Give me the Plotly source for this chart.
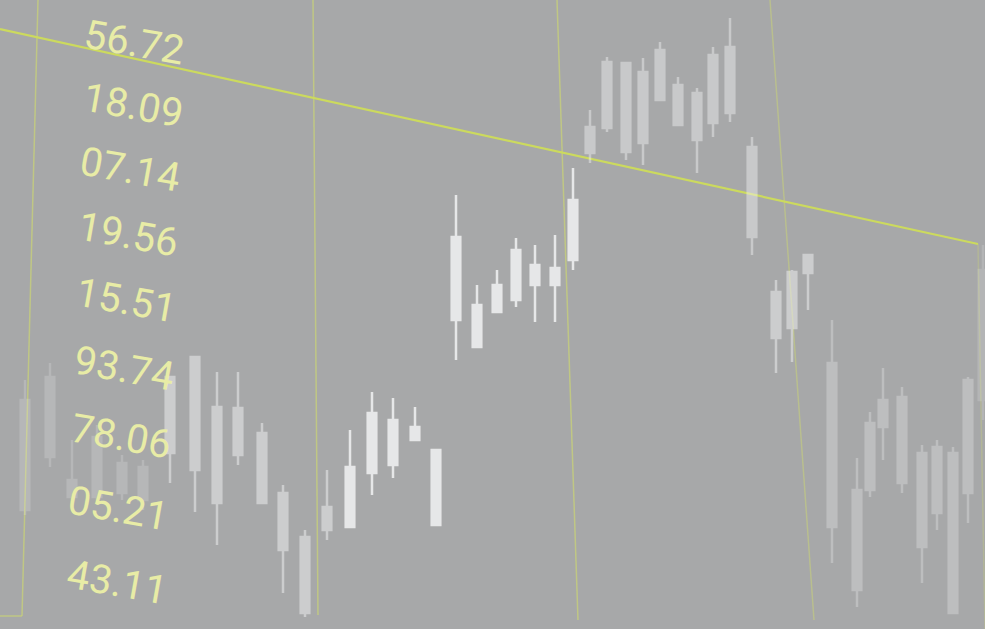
import plotly.graph_objects as go

# ---- data (price units; the chart shows a candlestick series) ----
pos = [25, 50, 72, 97, 122, 143,
       170, 195, 217, 238, 262, 283, 305, 327,
       350, 372, 393, 415, 436,
       456, 477, 497, 516, 535, 555, 573,
       590, 607, 626, 643, 660, 678, 697, 713, 730, 752,
       776, 792, 808,
       832, 857, 870, 883, 902, 922, 937, 953, 968, 983]
high = [249, 266, 189, 204, 174, 169,
        252, 272, 257, 257, 206, 144, 99, 159,
        199, 237, 231, 222, 179,
        434, 344, 359, 391, 384, 394, 461,
        519, 572, 566, 571, 587, 552, 541, 582, 611, 492,
        349, 359, 374,
        309, 171, 217, 261, 242, 184, 189, 182, 252, 384]
open_ = [119, 172, 132, 132, 136, 129,
         176, 159, 126, 174, 126, 79, 16, 99,
         102, 156, 164, 189, 104,
         309, 282, 317, 329, 344, 344, 369,
         476, 501, 477, 486, 529, 504, 489, 506, 516, 392,
         291, 301, 356,
         102, 39, 139, 229, 146, 82, 116, 16, 136, 229]
close = [229, 252, 149, 192, 166, 162,
         252, 272, 222, 221, 196, 136, 92, 122,
         162, 216, 209, 202, 179,
         392, 324, 344, 379, 364, 361, 429,
         502, 567, 566, 557, 579, 544, 536, 574, 582, 482,
         337, 357, 374,
         266, 139, 206, 202, 232, 176, 182, 176, 249, 359]
low = [114, 162, 126, 124, 129, 119,
       146, 117, 84, 164, 126, 36, 12, 89,
       102, 134, 151, 189, 104,
       269, 282, 317, 322, 307, 307, 359,
       466, 497, 469, 464, 529, 504, 456, 492, 507, 374,
       256, 267, 319,
       66, 22, 132, 169, 136, 46, 99, 16, 106, 209]

price_labels = ["56.72", "18.09", "07.14", "19.56", "15.51",
                "93.74", "78.06", "05.21", "43.11"]

# ---- styling ----
BG = "#a7a8a9"
groups = [  # (start, end, opacity)
    (0, 6, 0.2), (6, 14, 0.5), (14, 19, 0.85), (19, 26, 0.85),
    (26, 36, 0.45), (36, 39, 0.5), (39, 48, 0.3), (48, 49, 0.18),
]
CANDLE = "#f2f2f3"

fig = go.Figure()
for s, e, op in groups:
    fig.add_trace(go.Candlestick(
        x=pos[s:e], open=open_[s:e], high=high[s:e], low=low[s:e], close=close[s:e],
        increasing=dict(fillcolor=CANDLE, line=dict(color=CANDLE, width=2.5)),
        decreasing=dict(fillcolor=CANDLE, line=dict(color=CANDLE, width=2.5)),
        opacity=op, showlegend=False, hoverinfo="skip",
    ))

W, H = 985, 629
label_xy = [(134, 42), (133, 105), (130, 169), (128, 234), (126, 300),
            (124, 368), (121, 436), (118, 508), (117, 582)]
annotations = []
for txt, (lx, ly) in zip(price_labels, label_xy):
    annotations.append(dict(
        x=lx / W, y=1 - ly / H, xref="paper", yref="paper", text=txt,
        showarrow=False, textangle=10, xanchor="center", yanchor="middle",
        font=dict(family="Roboto, Liberation Sans, sans-serif",
                  size=40, color="#e8eca6"),
    ))

def seg(x0, y0, x1, y1, color, width):
    return dict(type="line", xref="paper", yref="paper",
                x0=x0 / W, y0=1 - y0 / H, x1=x1 / W, y1=1 - y1 / H,
                line=dict(color=color, width=width), layer="below")

GRID = "rgba(200,210,120,0.75)"
shapes = [
    seg(38, 0, 22, 616, GRID, 1.5),
    seg(0, 616, 22, 616, GRID, 1.5),
    seg(313, 0, 318, 615, GRID, 1.5),
    seg(557, 0, 578, 620, GRID, 1.5),
    seg(770, 0, 814, 620, "rgba(200,210,120,0.55)", 1.5),
    seg(978, 244, 985, 629, "rgba(200,210,120,0.35)", 1.5),
    seg(0, 29, 978, 244, "rgba(205,220,90,0.95)", 2.2),
]

fig.update_layout(
    width=W, height=H, margin=dict(l=0, r=0, t=0, b=0),
    paper_bgcolor=BG, plot_bgcolor=BG,
    boxgap=0.05,
    xaxis=dict(range=[0, W], visible=False, rangeslider=dict(visible=False), fixedrange=True),
    yaxis=dict(range=[0, H], visible=False, fixedrange=True),
    annotations=annotations, shapes=shapes,
)

fig.write_html("out.html", config={"displayModeBar": False},
               post_script="document.body.style.margin='0';document.body.style.overflow='hidden';")
